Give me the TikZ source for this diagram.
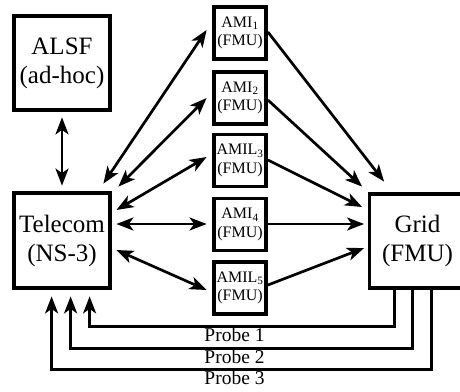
\documentclass[tikz,border=0pt]{standalone}
\usepackage{fontspec}
\setmainfont{Liberation Serif}
\usetikzlibrary{arrows.meta,calc}
\begin{document}
\begin{tikzpicture}[x=1pt,y=-1pt,
  box/.style={draw,line width=3.8pt,align=center,inner sep=0pt},
  bigbox/.style={box,minimum width=96pt,minimum height=94pt,font=\fontsize{25}{29}\selectfont},
  amibox/.style={box,minimum width=52pt,minimum height=52pt,font=\fontsize{16}{18.5}\selectfont},
  tip/.tip={Stealth[length=17pt,width=13pt,inset=4.5pt]},
  arr/.style={line width=2.7pt,-tip},
  barr/.style={line width=2.7pt,tip-tip},
  probeline/.style={line width=2.8pt,-tip},
  probe/.style={font=\fontsize{19.5}{22}\selectfont,inner sep=0pt,anchor=base}
]
\useasboundingbox (0,0) rectangle (460,391);
\node[bigbox] (alsf) at (62,63) {ALSF\\(ad-hoc)};
\node[bigbox,minimum height=95pt] (tel) at (62,240.5) {Telecom\\(NS-3)};
\node[bigbox] (grid) at (417.5,241) {Grid\\(FMU)};
\node[amibox] (ami1) at (240,33) {AMI\textsubscript{1}\\(FMU)};
\node[amibox] (ami2) at (240,98) {AMI\textsubscript{2}\\(FMU)};
\node[amibox] (ami3) at (240,160.5) {AMIL\textsubscript{3}\\(FMU)};
\node[amibox] (ami4) at (240,224.5) {AMI\textsubscript{4}\\(FMU)};
\node[amibox] (ami5) at (240,288) {AMIL\textsubscript{5}\\(FMU)};
% ALSF - Telecom
\draw[barr] ($(alsf.south)+(0,5.5)$) -- ($(tel.north)+(0,-5.5)$);
% Telecom - AMI
\draw[barr] ($(tel.north east)+(-8.5,-7.5)$) -- ($(ami1.west)+(-5.5,-3)$);
\draw[barr] ($(tel.north east)+(6.5,-4.5)$) -- ($(ami2.west)+(-5.5,0)$);
\draw[barr] ($(tel.east)+(4.5,-30.5)$) -- ($(ami3.west)+(-5.5,-3.5)$);
\draw[barr] ($(tel.east)+(4.5,-16.5)$) -- ($(ami4.west)+(-5.5,-0.5)$);
\draw[barr] ($(tel.east)+(4.5,9.5)$) -- ($(ami5.west)+(-5.5,2)$);
% AMI - Grid
\draw[arr] ($(ami1.east)+(0,-1)$) -- ($(grid.north west)+(16.5,-10.5)$);
\draw[arr] ($(ami2.east)+(0,2)$) -- ($(grid.north west)+(-5.5,-5.5)$);
\draw[arr] ($(ami3.east)+(0,-0.5)$) -- ($(grid.west)+(-5.5,-34)$);
\draw[arr] ($(ami4.east)+(0,-0.5)$) -- ($(grid.west)+(-3.5,-17)$);
\draw[arr] ($(ami5.east)+(0,-3)$) -- ($(grid.west)+(-3.5,7)$);
% Probes
\draw[probeline] ($(grid.south west)+(26.5,0)$) -- ++(0,36.5) -| ($(tel.south west)+(77.5,6.5)$);
\draw[probeline] ($(grid.south west)+(44.5,0)$) -- ++(0,58.5) -| ($(tel.south west)+(58.5,6.5)$);
\draw[probeline] ($(grid.south west)+(63.5,0)$) -- ++(0,79.5) -| ($(tel.south west)+(39.5,6.5)$);
\node[probe] (p1) at (234.5,341) {Probe 1};
\node[probe] (p2) at (234.5,363) {Probe 2};
\node[probe] (p3) at (234.5,384) {Probe 3};
\end{tikzpicture}
\end{document}
